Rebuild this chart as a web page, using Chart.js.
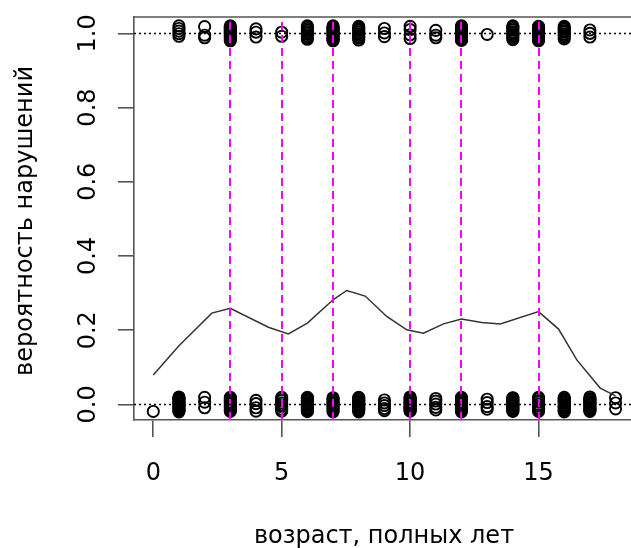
<!DOCTYPE html>
<html><head><meta charset="utf-8">
<script src="https://cdn.jsdelivr.net/npm/chart.js@4"></script>
<style>html,body{margin:0;padding:0;background:#fff;overflow:hidden}</style>
</head><body>
<canvas id="c" width="631" height="548"></canvas>
<script>
// ---- data ----
const xTicks = [0, 5, 10, 15];
const xTickLabels = ['0', '5', '10', '15'];
const yTicks = [0, 0.2, 0.4, 0.6, 0.8, 1.0];
const yTickLabels = ['0.0', '0.2', '0.4', '0.6', '0.8', '1.0'];
const xTitle = 'возраст, полных лет';
const yTitle = 'вероятность нарушений';
const vLines = [3, 5, 7, 10, 12, 15];
const hLines = [0, 1];

// smoothed probability curve
const curveX = [0, 1, 2.28, 3, 4.48, 5.26, 6, 7, 7.53, 8.25, 9.09, 9.87, 10.52, 11.3, 12, 12.79, 13.51, 15, 15.78, 16.49, 17.4, 18];
const curveY = [0.079, 0.158, 0.246, 0.259, 0.208, 0.19, 0.219, 0.282, 0.307, 0.292, 0.237, 0.201, 0.192, 0.217, 0.23, 0.221, 0.217, 0.25, 0.203, 0.12, 0.044, 0.023];

// observed outcomes (0 = no violation) with vertical jitter, by age
const bottomAges = [0,1,2,3,4,5,6,7,8,9,10,11,12,13,14,15,16,17,18];
const bottomJitter = [
  [-0.019],
  [-0.02,-0.017,-0.015,-0.012,-0.01,-0.006,-0.004,-0.001,0.002,0.005,0.007,0.01,0.013,0.015,0.018,0.02],
  [0.019,0.006,-0.009],
  [-0.019,-0.015,-0.011,-0.007,-0.003,0.001,0.005,0.009,0.012,0.016,0.019],
  [0.011,0.002,-0.009,-0.018],
  [-0.018,-0.013,-0.006,-0.001,0.004,0.01,0.014,0.019],
  [-0.019,-0.018,-0.014,-0.011,-0.009,-0.007,-0.003,0.0,0.003,0.004,0.008,0.011,0.012,0.016,0.017,0.019],
  [-0.02,-0.016,-0.012,-0.008,-0.004,0.0,0.003,0.007,0.011,0.015,0.018],
  [-0.02,-0.016,-0.013,-0.012,-0.008,-0.005,-0.002,0.001,0.002,0.006,0.009,0.01,0.014,0.016,0.019],
  [0.012,0.004,-0.003,-0.011,-0.017],
  [-0.018,-0.017,-0.013,-0.01,-0.009,-0.005,-0.003,0.001,0.004,0.005,0.009,0.012,0.013,0.017,0.02],
  [0.016,0.009,0.001,-0.008,-0.015],
  [-0.02,-0.016,-0.014,-0.011,-0.008,-0.006,-0.002,0.0,0.003,0.006,0.008,0.011,0.014,0.016,0.019],
  [0.014,0.005,-0.006,-0.013],
  [-0.019,-0.017,-0.013,-0.012,-0.009,-0.005,-0.004,0.0,0.002,0.005,0.009,0.01,0.013,0.017,0.018],
  [-0.019,-0.014,-0.01,-0.005,0.0,0.006,0.01,0.015,0.019],
  [-0.02,-0.018,-0.015,-0.011,-0.008,-0.007,-0.003,-0.001,0.003,0.006,0.007,0.011,0.014,0.015,0.019],
  [-0.019,-0.016,-0.014,-0.012,-0.009,-0.006,-0.002,0.001,0.004,0.005,0.008,0.012,0.013,0.016,0.02],
  [0.018,0.004,-0.012]
];
// observed outcomes (1 = violation) with vertical jitter, by age
const topAges = [1,2,3,4,5,6,7,8,9,10,11,12,13,14,15,16,17];
const topJitter = [
  [0.02,0.013,0.006,-0.001,-0.008],
  [0.018,-0.005,-0.012],
  [-0.02,-0.017,-0.014,-0.011,-0.008,-0.006,-0.002,0.0,0.003,0.006,0.009,0.011,0.014,0.017,0.02],
  [0.012,0.003,-0.01],
  [0.003,-0.008],
  [-0.016,-0.012,-0.008,-0.003,0.001,0.005,0.009,0.013,0.017,0.02],
  [-0.02,-0.018,-0.015,-0.012,-0.009,-0.005,-0.003,0.001,0.004,0.006,0.01,0.012,0.015,0.018,0.02],
  [-0.018,-0.013,-0.009,-0.005,-0.001,0.003,0.008,0.012,0.016,0.019],
  [0.013,0.001,-0.009],
  [0.019,0.01,-0.004,-0.014],
  [0.008,-0.005,-0.012],
  [-0.019,-0.016,-0.013,-0.01,-0.007,-0.004,-0.001,0.002,0.005,0.008,0.011,0.014,0.017,0.02],
  [-0.003],
  [-0.017,-0.012,-0.008,-0.004,0.0,0.004,0.009,0.013,0.017,0.02],
  [-0.02,-0.017,-0.014,-0.012,-0.008,-0.005,-0.002,0.001,0.004,0.007,0.01,0.013,0.016,0.019],
  [-0.015,-0.011,-0.006,-0.002,0.003,0.007,0.011,0.015,0.019],
  [0.009,0.0,-0.01]
];

// ---- build ----
const points = [];
bottomAges.forEach((a, i) => bottomJitter[i].forEach(j => points.push({x: a, y: 0 + j})));
topAges.forEach((a, i) => topJitter[i].forEach(j => points.push({x: a, y: 1 + j})));
const curve = curveX.map((v, i) => ({x: v, y: curveY[i]}));

const FONT = '24px "DejaVu Sans"';
const AXIS_COL = '#555';

const overlay = {
  id: 'overlay',
  afterDatasetsDraw(chart) {
    const {ctx, chartArea: a, scales: {x, y}} = chart;
    ctx.save();
    ctx.beginPath(); ctx.rect(a.left, a.top, a.right - a.left, a.bottom - a.top); ctx.clip();
    ctx.strokeStyle = '#ff00ff'; ctx.lineWidth = 2; ctx.setLineDash([8, 5]);
    vLines.forEach(v => {
      const px = Math.round(x.getPixelForValue(v));
      ctx.beginPath(); ctx.moveTo(px, a.bottom); ctx.lineTo(px, a.top); ctx.stroke();
    });
    ctx.strokeStyle = '#000'; ctx.lineWidth = 1.3; ctx.setLineDash([2, 3]);
    hLines.forEach(v => {
      const py = Math.round(y.getPixelForValue(v)) + 0.5;
      ctx.beginPath(); ctx.moveTo(a.left, py); ctx.lineTo(a.right, py); ctx.stroke();
    });
    ctx.restore();
  },
  afterDraw(chart) {
    const {ctx, chartArea: a, scales: {x, y}} = chart;
    ctx.save();
    // top frame line
    ctx.strokeStyle = AXIS_COL; ctx.lineWidth = 1.6;
    ctx.beginPath(); ctx.moveTo(a.left, a.top); ctx.lineTo(a.right, a.top); ctx.stroke();
    ctx.fillStyle = '#000'; ctx.font = FONT;
    // x tick labels
    ctx.textAlign = 'center'; ctx.textBaseline = 'alphabetic';
    xTicks.forEach((v, i) => ctx.fillText(xTickLabels[i], x.getPixelForValue(v), a.bottom + 60));
    // y tick labels (rotated)
    yTicks.forEach((v, i) => {
      ctx.save();
      ctx.translate(a.left - 39, y.getPixelForValue(v));
      ctx.rotate(-Math.PI / 2);
      ctx.fillText(yTickLabels[i], 0, 0);
      ctx.restore();
    });
    // axis titles
    ctx.fillText(xTitle, 384, a.bottom + 123);
    ctx.save();
    ctx.translate(32, 221);
    ctx.rotate(-Math.PI / 2);
    ctx.fillText(yTitle, 0, 0);
    ctx.restore();
    ctx.restore();
  }
};

new Chart(document.getElementById('c'), {
  type: 'scatter',
  data: {
    datasets: [
      {type: 'line', data: curve, borderColor: '#333', borderWidth: 1.5, pointRadius: 0, tension: 0, fill: false, order: 0},
      {data: points, pointStyle: 'circle', pointRadius: 5.6, pointBorderColor: '#000', pointBackgroundColor: 'rgba(0,0,0,0)', pointBorderWidth: 1.9, order: 1}
    ]
  },
  options: {
    responsive: false, animation: false, events: [],
    layout: {autoPadding: false, padding: {top: 17, left: 0, right: 0, bottom: 0}},
    plugins: {legend: {display: false}, tooltip: {enabled: false}},
    scales: {
      x: {
        type: 'linear', min: -0.75, max: 18.6,
        afterBuildTicks: s => { s.ticks = xTicks.map(v => ({value: v})); },
        afterFit: s => { s.height = 128; },
        ticks: {display: false},
        grid: {display: true, drawOnChartArea: false, drawTicks: true, tickLength: 17, color: AXIS_COL, lineWidth: 1.6},
        border: {display: true, color: AXIS_COL, width: 1.6}
      },
      y: {
        type: 'linear', min: -0.042, max: 1.044,
        afterBuildTicks: s => { s.ticks = yTicks.map(v => ({value: v})); },
        afterFit: s => { s.width = 134; },
        ticks: {display: false},
        grid: {display: true, drawOnChartArea: false, drawTicks: true, tickLength: 16, color: AXIS_COL, lineWidth: 1.6},
        border: {display: true, color: AXIS_COL, width: 1.6}
      }
    }
  },
  plugins: [overlay]
});
</script>
</body></html>
